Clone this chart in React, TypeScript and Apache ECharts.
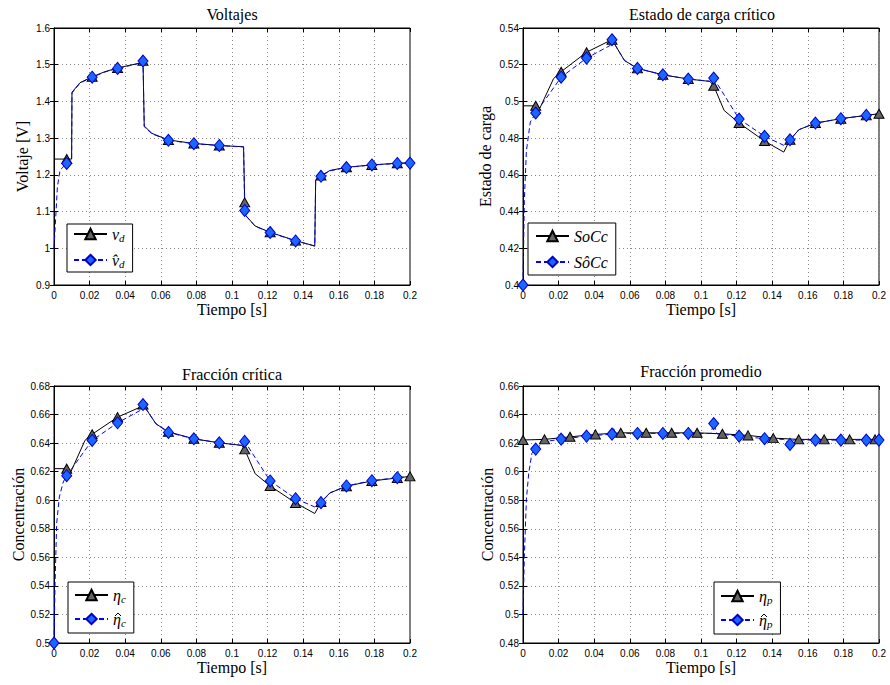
import React, { useEffect, useRef } from "react";
import * as echarts from "echarts";

// ---------- Voltajes ----------
const vdT = [0, 0.00714, 0.0099, 0.0101, 0.0146, 0.02143, 0.02857, 0.03571, 0.043, 0.049, 0.05, 0.0507, 0.055, 0.06429, 0.07857, 0.09286, 0.1065, 0.10714, 0.1075, 0.113, 0.12143, 0.13571, 0.1465, 0.147, 0.15, 0.155, 0.16429, 0.17857, 0.19286, 0.2];
const vdV = [1.243, 1.243, 1.243, 1.425, 1.451, 1.467, 1.481, 1.491, 1.499, 1.505, 1.511, 1.333, 1.313, 1.295, 1.2855, 1.28, 1.2765, 1.125, 1.0906, 1.0607, 1.0435, 1.0208, 1.0063, 1.186, 1.198, 1.2118, 1.2208, 1.227, 1.2317, 1.2326];
const vdMarkT = [0.00714, 0.02143, 0.03571, 0.05, 0.06429, 0.07857, 0.09286, 0.10714, 0.12143, 0.13571, 0.15, 0.16429, 0.17857, 0.19286];

const vdHatT = [0, 0.0011, 0.0019, 0.0034, 0.00714, 0.0099, 0.0101, 0.0146, 0.02143, 0.02857, 0.03571, 0.043, 0.049, 0.05, 0.0507, 0.055, 0.06429, 0.07857, 0.09286, 0.1065, 0.10714, 0.1075, 0.113, 0.12143, 0.13571, 0.1465, 0.147, 0.15, 0.155, 0.16429, 0.17857, 0.19286, 0.2];
const vdHatV = [1.0, 1.096, 1.167, 1.213, 1.231, 1.238, 1.423, 1.45, 1.466, 1.48, 1.49, 1.498, 1.505, 1.51, 1.331, 1.312, 1.294, 1.285, 1.28, 1.276, 1.103, 1.09, 1.06, 1.043, 1.02, 1.006, 1.186, 1.196, 1.211, 1.22, 1.227, 1.231, 1.232];
const vdHatMarkT = [0.00714, 0.02143, 0.03571, 0.05, 0.06429, 0.07857, 0.09286, 0.10714, 0.12143, 0.13571, 0.15, 0.16429, 0.17857, 0.19286, 0.2];

// ---------- Estado de carga crítico ----------
const soccT = [0, 0.00714, 0.0095, 0.0172, 0.02143, 0.03571, 0.049, 0.05, 0.057, 0.06429, 0.07857, 0.09286, 0.105, 0.10714, 0.113, 0.12143, 0.13571, 0.1465, 0.15, 0.155, 0.16429, 0.17857, 0.19286, 0.2];
const soccV = [0.4976, 0.4976, 0.4964, 0.5125, 0.5162, 0.5268, 0.5332, 0.5336, 0.5223, 0.518, 0.5145, 0.5122, 0.5109, 0.5085, 0.4951, 0.4882, 0.4784, 0.4724, 0.4791, 0.4846, 0.4882, 0.4906, 0.4924, 0.4933];
const soccMarkT = [0.00714, 0.02143, 0.03571, 0.05, 0.06429, 0.07857, 0.09286, 0.10714, 0.12143, 0.13571, 0.15, 0.16429, 0.17857, 0.19286, 0.2];

const soccHatT = [0, 0.00075, 0.0019, 0.0041, 0.00714, 0.02143, 0.03571, 0.049, 0.05, 0.057, 0.06429, 0.07857, 0.09286, 0.105, 0.10714, 0.12143, 0.13571, 0.1465, 0.15, 0.155, 0.16429, 0.17857, 0.19286, 0.2];
const soccHatV = [0.4, 0.446, 0.473, 0.4888, 0.4937, 0.5132, 0.5236, 0.5305, 0.5336, 0.5223, 0.518, 0.5145, 0.5122, 0.511, 0.5127, 0.4904, 0.481, 0.4761, 0.4791, 0.4846, 0.4882, 0.4906, 0.4924, 0.4933];
const soccHatMarkT = [0, 0.00714, 0.02143, 0.03571, 0.05, 0.06429, 0.07857, 0.09286, 0.10714, 0.12143, 0.13571, 0.15, 0.16429, 0.17857, 0.19286];

// ---------- Fracción crítica ----------
const etacT = [0, 0.00714, 0.0094, 0.0174, 0.02143, 0.03571, 0.0483, 0.05, 0.0573, 0.06429, 0.07857, 0.09286, 0.1055, 0.10714, 0.113, 0.12143, 0.13571, 0.1465, 0.15, 0.155, 0.16429, 0.17857, 0.19286, 0.2];
const etacV = [0.6221, 0.6221, 0.6197, 0.6419, 0.6462, 0.6582, 0.6651, 0.667, 0.6535, 0.6479, 0.643, 0.6402, 0.6384, 0.6356, 0.6186, 0.61, 0.5981, 0.5907, 0.5988, 0.6051, 0.6098, 0.6135, 0.6156, 0.6167];
const etacMarkT = [0.00714, 0.02143, 0.03571, 0.05, 0.06429, 0.07857, 0.09286, 0.10714, 0.12143, 0.13571, 0.15, 0.16429, 0.17857, 0.19286, 0.2];

const etacHatT = [0, 0.0006, 0.0015, 0.003, 0.0052, 0.00714, 0.02143, 0.03571, 0.0483, 0.05, 0.0573, 0.06429, 0.07857, 0.09286, 0.1055, 0.10714, 0.12143, 0.13571, 0.1465, 0.15, 0.155, 0.16429, 0.17857, 0.19286, 0.2];
const etacHatV = [0.5, 0.5419, 0.5838, 0.6023, 0.6128, 0.6172, 0.6419, 0.6542, 0.6628, 0.667, 0.6535, 0.6475, 0.643, 0.6402, 0.6384, 0.6412, 0.6135, 0.6011, 0.5953, 0.5983, 0.6051, 0.61, 0.6137, 0.6158, 0.6167];
const etacHatMarkT = [0, 0.00714, 0.02143, 0.03571, 0.05, 0.06429, 0.07857, 0.09286, 0.10714, 0.12143, 0.13571, 0.15, 0.16429, 0.17857, 0.19286];

// ---------- Fracción promedio ----------
const etapT = [0, 0.0121, 0.0264, 0.0407, 0.0549, 0.0692, 0.0835, 0.0978, 0.112, 0.1264, 0.1406, 0.1549, 0.1692, 0.1835, 0.1978, 0.2];
const etapV = [0.6222, 0.6226, 0.6244, 0.6261, 0.6272, 0.6272, 0.6272, 0.6272, 0.6265, 0.6254, 0.6235, 0.6226, 0.6226, 0.6226, 0.6226, 0.6226];
const etapMarkT = [0, 0.0121, 0.0264, 0.0407, 0.0549, 0.0692, 0.0835, 0.0978, 0.112, 0.1264, 0.1406, 0.1549, 0.1692, 0.1835, 0.1978];

const etapHatT = [0, 0.00075, 0.0019, 0.0032, 0.005, 0.00714, 0.012, 0.02143, 0.03571, 0.05, 0.0506, 0.052, 0.06429, 0.07857, 0.09286, 0.1055, 0.10714, 0.109, 0.12143, 0.13571, 0.1465, 0.15, 0.152, 0.16429, 0.17857, 0.19286, 0.2];
const etapHatV = [0.5, 0.5407, 0.5803, 0.5988, 0.6128, 0.6158, 0.621, 0.6228, 0.6249, 0.6263, 0.6314, 0.6268, 0.6268, 0.6268, 0.6268, 0.6268, 0.6337, 0.6265, 0.6249, 0.6231, 0.6226, 0.6191, 0.6222, 0.6221, 0.6221, 0.6221, 0.6221];
const etapHatMarkT = [0.00714, 0.02143, 0.03571, 0.05, 0.06429, 0.07857, 0.09286, 0.10714, 0.12143, 0.13571, 0.15, 0.16429, 0.17857, 0.19286, 0.2];

// ---------- axes ----------
const titles = ["Voltajes", "Estado de carga crítico", "Fracción crítica", "Fracción promedio"];
const yNames = ["Voltaje [V]", "Estado de carga", "Concentración", "Concentración"];
const yMins = [0.9, 0.4, 0.5, 0.48];
const yMaxs = [1.6, 0.54, 0.68, 0.66];
const ySteps = [0.1, 0.02, 0.02, 0.02];
const xName = "Tiempo [s]";
const xMin = 0;
const xMax = 0.2;
const xStep = 0.02;

const legendLabels: Record<string, string> = {
  vd: "{i|v}{s|d}",
  vdHat: "{i|v\u0302}{s|d}",
  socc: "{i|SoCc}",
  soccHat: "{i|So\u0302Cc}",
  etac: "{i|\u03b7}{s|c}",
  etacHat: "{i|\u03b7}{s|c}",
  etap: "{i|\u03b7}{s|p}",
  etapHat: "{i|\u03b7}{s|p}",
};

const SERIF = "Liberation Serif";
const SANS = "Liberation Sans";

const gridPos = [
  { left: 54, top: 28 },
  { left: 523, top: 28 },
  { left: 54, top: 386 },
  { left: 523, top: 386 },
];
const yNameGaps = [24, 30, 27, 27];
const titlePos = [
  [232, 14],
  [702, 14],
  [232, 374],
  [701, 371],
];
const legendPos = [
  { left: 67, top: 224, padding: [2, 8, 3, 6], itemGap: 9, names: ["vd", "vdHat"] },
  { left: 528, top: 223, padding: [5, 8, 5, 7], itemGap: 10, names: ["socc", "soccHat"] },
  { left: 68, top: 582, padding: [5, 8, 5, 6], itemGap: 7, names: ["etac", "etacHat"] },
  { left: 714, top: 582, padding: [6, 8, 5, 6], itemGap: 7, names: ["etap", "etapHat"] },
];
// apex of the hat drawn over the eta of the estimate labels (legends 3 and 4, second row)
const hatPos = [
  [118, 613],
  [764, 614],
];

function buildData(ts: number[], vs: number[], marks: number[], sym: string) {
  return ts.map((t, i) => ({
    value: [t, vs[i]],
    symbol: marks.some((m) => Math.abs(m - t) < 1e-7) ? sym : "none",
  }));
}

function truthSeries(name: string, idx: number, ts: number[], vs: number[], marks: number[]) {
  return {
    type: "line",
    name,
    xAxisIndex: idx,
    yAxisIndex: idx,
    data: buildData(ts, vs, marks, "triangle"),
    symbol: "triangle",
    symbolSize: [10, 9],
    showSymbol: true,
    showAllSymbol: true,
    silent: true,
    lineStyle: { color: "#000000", width: 1 },
    itemStyle: { color: "#646464", borderColor: "#000000", borderWidth: 1 },
  };
}

function estSeries(name: string, idx: number, ts: number[], vs: number[], marks: number[]) {
  return {
    type: "line",
    name,
    xAxisIndex: idx,
    yAxisIndex: idx,
    data: buildData(ts, vs, marks, "diamond"),
    symbol: "diamond",
    symbolSize: [10, 12],
    showSymbol: true,
    showAllSymbol: true,
    silent: true,
    lineStyle: { color: "#0000ff", width: 1, type: [5, 3] },
    itemStyle: { color: "#1a66ff", borderColor: "#0000cc", borderWidth: 1 },
  };
}

export default function App() {
  const ref = useRef<HTMLDivElement>(null);

  useEffect(() => {
    if (!ref.current) return;
    const chart = echarts.init(ref.current, undefined, { renderer: "svg" });

    const grids = gridPos.map((g) => ({
      left: g.left,
      top: g.top,
      width: 356,
      height: 257,
      show: true,
      borderColor: "#000",
      borderWidth: 1,
      backgroundColor: "transparent",
    }));

    const splitStyle = { show: true, lineStyle: { color: "#8a8a8a", width: 1, type: [1, 3] } };
    const tickStyle = { show: true, inside: true, length: 4, lineStyle: { color: "#000", width: 1 } };
    const labelStyle = { color: "#000", fontFamily: SANS, fontSize: 10, showMinLabel: true, showMaxLabel: true };

    const xAxes: any[] = [];
    const yAxes: any[] = [];
    for (let i = 0; i < 4; i++) {
      xAxes.push({
        type: "value",
        gridIndex: i,
        min: xMin,
        max: xMax,
        interval: xStep,
        position: "bottom",
        name: xName,
        nameLocation: "middle",
        nameGap: 16,
        nameTextStyle: { fontFamily: SERIF, fontSize: 16, color: "#000" },
        axisLine: { show: true, lineStyle: { color: "#000", width: 1 } },
        axisTick: tickStyle,
        splitLine: splitStyle,
        axisLabel: { ...labelStyle, margin: 5 },
      });
      yAxes.push({
        type: "value",
        gridIndex: i,
        min: yMins[i],
        max: yMaxs[i],
        interval: ySteps[i],
        position: "left",
        name: yNames[i],
        nameLocation: "middle",
        nameGap: yNameGaps[i],
        nameTextStyle: { fontFamily: SERIF, fontSize: 16, color: "#000" },
        axisLine: { show: true, lineStyle: { color: "#000", width: 1 } },
        axisTick: tickStyle,
        splitLine: splitStyle,
        axisLabel: { ...labelStyle, margin: 4 },
      });
    }
    for (let i = 0; i < 4; i++) {
      xAxes.push({
        type: "value",
        gridIndex: i,
        min: xMin,
        max: xMax,
        interval: xStep,
        position: "top",
        axisLine: { show: true, lineStyle: { color: "#000", width: 1 } },
        axisTick: tickStyle,
        splitLine: { show: false },
        axisLabel: { show: false },
      });
      yAxes.push({
        type: "value",
        gridIndex: i,
        min: yMins[i],
        max: yMaxs[i],
        interval: ySteps[i],
        position: "right",
        axisLine: { show: true, lineStyle: { color: "#000", width: 1 } },
        axisTick: tickStyle,
        splitLine: { show: false },
        axisLabel: { show: false },
      });
    }

    const series = [
      truthSeries("vd", 0, vdT, vdV, vdMarkT),
      estSeries("vdHat", 0, vdHatT, vdHatV, vdHatMarkT),
      truthSeries("socc", 1, soccT, soccV, soccMarkT),
      estSeries("soccHat", 1, soccHatT, soccHatV, soccHatMarkT),
      truthSeries("etac", 2, etacT, etacV, etacMarkT),
      estSeries("etacHat", 2, etacHatT, etacHatV, etacHatMarkT),
      truthSeries("etap", 3, etapT, etapV, etapMarkT),
      estSeries("etapHat", 3, etapHatT, etapHatV, etapHatMarkT),
    ];

    const legends = legendPos.map((l) => ({
      show: true,
      data: l.names,
      left: l.left,
      top: l.top,
      orient: "vertical",
      padding: l.padding,
      itemGap: l.itemGap,
      itemWidth: 33,
      itemHeight: 13,
      selectedMode: false,
      backgroundColor: "#ffffff",
      borderColor: "#000000",
      borderWidth: 1,
      formatter: (name: string) => legendLabels[name] || name,
      textStyle: {
        color: "#000",
        rich: {
          i: { fontFamily: SERIF, fontStyle: "italic", fontSize: 16, lineHeight: 18, color: "#000" },
          s: { fontFamily: SERIF, fontStyle: "italic", fontSize: 11, lineHeight: 10, verticalAlign: "bottom", color: "#000" },
        },
      },
    }));

    const graphic: any[] = titles.map((t, i) => ({
      type: "text",
      x: titlePos[i][0],
      y: titlePos[i][1],
      silent: true,
      style: {
        text: t,
        fontFamily: SERIF,
        fontSize: 16,
        fill: "#000",
        align: "center",
        verticalAlign: "middle",
        textAlign: "center",
        textVerticalAlign: "middle",
      },
    }));
    hatPos.forEach((p) => {
      graphic.push({
        type: "polyline",
        z: 100,
        silent: true,
        shape: {
          points: [
            [p[0] - 3, p[1] + 3],
            [p[0], p[1]],
            [p[0] + 3, p[1] + 3],
          ],
        },
        style: { stroke: "#000", lineWidth: 1, fill: null },
      });
    });

    chart.setOption({
      animation: false,
      backgroundColor: "#ffffff",
      grid: grids,
      xAxis: xAxes,
      yAxis: yAxes,
      legend: legends,
      graphic,
      series,
    });

    return () => chart.dispose();
  }, []);

  return (
    <div
      ref={ref}
      style={{ position: "absolute", left: 0, top: 0, width: 890, height: 685, background: "#fff" }}
    />
  );
}
